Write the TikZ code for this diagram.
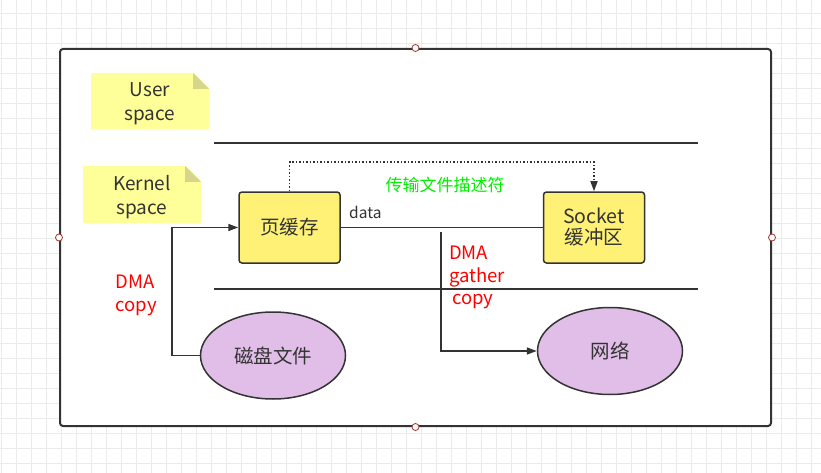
\documentclass[tikz,border=0pt]{standalone}
\usepackage{fontspec}
\setmainfont{Noto Sans CJK SC}
\usetikzlibrary{arrows.meta,shapes.geometric}
\definecolor{gridc}{HTML}{EBEBEB}
\definecolor{frame}{HTML}{333333}
\definecolor{notey}{HTML}{FFFF99}
\definecolor{foldc}{HTML}{D6D68A}
\definecolor{boxy}{HTML}{FFF176}
\definecolor{purp}{HTML}{E1BEE7}
\definecolor{txt}{HTML}{333333}
\definecolor{greent}{HTML}{00EE00}
\definecolor{handle}{HTML}{A33333}
\tikzset{
  notebox/.style={fill=notey, minimum width=118pt, inner sep=0pt},
  notetext/.style={align=center, text=txt, inner sep=0pt, font=\fontsize{19}{24}\selectfont},
  cachebox/.style={draw=frame, line width=1.5pt, fill=boxy, rounded corners=3pt, minimum width=101pt, minimum height=71pt, align=center, text=txt, font=\fontsize{19.5}{23}\selectfont},
  blob/.style={ellipse, draw=frame, line width=1.5pt, fill=purp, minimum width=145pt, minimum height=87pt, text=txt, font=\fontsize{19.5}{23}\selectfont},
  conn/.style={draw=frame, line width=1.5pt},
  arr/.style={conn, -{Triangle[length=10pt,width=7pt]}},
  redt/.style={text=red, align=left, font=\fontsize{18.5}{22.5}\selectfont, inner sep=0pt},
  hdl/.style={circle, draw=handle, fill=white, line width=0.8pt, minimum size=7pt, inner sep=0pt}
}
\begin{document}
\begin{tikzpicture}[x=1pt,y=-1pt]
\useasboundingbox (0,0) rectangle (821,473);
% grid
\foreach \i in {0,...,54} {\draw[gridc, line width=1pt] (1.7+15*\i,0) -- (1.7+15*\i,473);}
\foreach \j in {0,...,31} {\draw[gridc, line width=1pt] (0,13.3+15*\j) -- (821,13.3+15*\j);}
% frame
\node[draw=frame, fill=white, line width=2pt, rounded corners=3pt, minimum width=711pt, minimum height=377pt, inner sep=0pt] (frm) at (415.5,237.5) {};
% notes
\node[notebox, minimum height=56pt] (user) at (150,101) {};
\fill[white] (193,72) -- (210,72) -- (210,89) -- cycle;
\fill[foldc] (193,73) -- (209,89) -- (193,89) -- cycle;
\node[notetext] (usert) at (150,104) {User\\space};
\node[notebox, minimum height=57pt] (kern) at (142,194.5) {};
\fill[white] (185,165) -- (202,165) -- (202,182) -- cycle;
\fill[foldc] (185,166) -- (201,182) -- (185,182) -- cycle;
\node[notetext] (kernt) at (142,197.5) {Kernel\\space};
% separators
\coordinate (s1a) at (214,143); \coordinate (s1b) at (698,143);
\coordinate (s2a) at (214,289); \coordinate (s2b) at (698,289);
\draw[conn] (s1a) -- (s1b);
\draw[conn] (s2a) -- (s2b);
% boxes
\node[cachebox] (page) at (289.5,227.5) {页缓存};
\node[cachebox] (sock) at (594,227.5) {Socket\\[-2pt]缓冲区};
\node[blob] (disk) at (273,355.5) {磁盘文件};
\node[blob] (net) at (610,351) {网络};
% data line
\draw[conn] (page.east) -- (sock.west);
\node[text=txt, font=\fontsize{15.5}{18}\selectfont, anchor=base west, inner sep=0pt] (data) at (349,218.5) {data};
% dotted
\draw[line width=1.5pt, frame, dotted, -{Triangle[length=10pt,width=7pt]}] (page.north) -- ++(0,-29) -| (sock.north);
\node[text=greent, font=\fontsize{17}{20}\selectfont, inner sep=0pt] (fd) at (445,185) {传输文件描述符};
% DMA copy
\coordinate (dc) at (172,355.5);
\draw[arr] (disk.west) -- (dc) |- (page.west);
\node[redt, anchor=north] (dmac) at (136,275) {DMA\\copy};
% DMA gather
\coordinate (g0) at (441,232);
\draw[arr] (g0) |- (net.west);
\node[redt, anchor=north west] (dmag) at (449,246) {DMA\\gather\\\,copy};
% handles
\node[hdl] (h1) at (frm.north) {};
\node[hdl] (h2) at (frm.south) {};
\node[hdl] (h3) at (frm.west) {};
\node[hdl] (h4) at (frm.east) {};
\end{tikzpicture}
\end{document}
